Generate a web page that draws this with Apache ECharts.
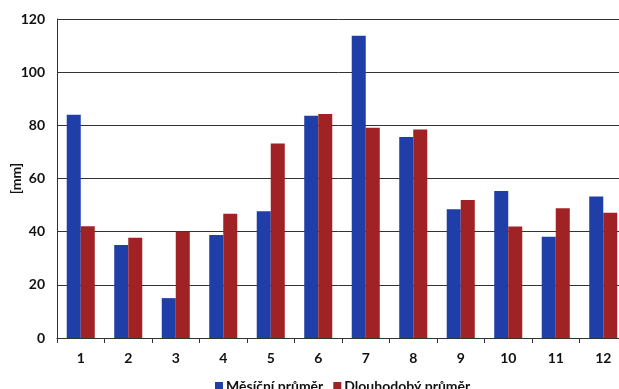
<!DOCTYPE html>
<html>
<head>
<meta charset="utf-8">
<script src="https://cdn.jsdelivr.net/npm/echarts@6/dist/echarts.min.js"></script>
<style>html,body{margin:0;padding:0;background:#fff}#c{width:619px;height:389px}</style>
</head>
<body>
<div id="c"></div>
<script>
const categories = ['1','2','3','4','5','6','7','8','9','10','11','12'];
const monthly = [84, 35, 15, 38.7, 47.7, 83.6, 113.7, 75.6, 48.4, 55.3, 38.1, 53.2];
const longTerm = [42, 37.7, 40, 46.7, 73.2, 84.3, 79.1, 78.4, 51.9, 41.9, 48.8, 47.1];
const seriesNames = ['Měsíční průměr', 'Dlouhodobý průměr'];
const yTicks = {min: 0, max: 120, interval: 20};

const chart = echarts.init(document.getElementById('c'), null, {renderer: 'canvas'});
const font = 'Lato, "Open Sans", "DejaVu Sans", sans-serif';
chart.setOption({
  animation: false,
  backgroundColor: '#fff',
  grid: {left: 57, top: 19, bottom: 51, right: -8, containLabel: false, outerBoundsMode: 'none'},
  legend: {
    left: 210, top: 374, itemWidth: 8, itemHeight: 8, itemGap: 10,
    icon: 'rect',
    textStyle: {fontFamily: font, fontWeight: 'bold', fontSize: 14, color: '#111', padding: [0,0,0,-2]},
    data: seriesNames
  },
  xAxis: {
    type: 'category', data: categories,
    axisLine: {lineStyle: {color: '#333', width: 1}},
    axisTick: {show: true, length: 5, lineStyle: {color: '#333'}},
    axisLabel: {margin: 13, fontFamily: font, fontWeight: 'bold', fontSize: 14, color: '#111'}
  },
  yAxis: {
    type: 'value', min: yTicks.min, max: yTicks.max, interval: yTicks.interval,
    name: '[mm]', nameLocation: 'middle', nameRotate: 90, nameGap: 34, nameMoveOverlap: false,
    nameTextStyle: {fontFamily: font, fontWeight: 'bold', fontSize: 14, color: '#111'},
    axisLine: {show: true, lineStyle: {color: '#333'}},
    axisTick: {show: false},
    splitLine: {lineStyle: {color: '#333', width: 1}},
    axisLabel: {margin: 12, fontFamily: font, fontWeight: 'bold', fontSize: 14, color: '#111'}
  },
  series: [
    {name: seriesNames[0], type: 'bar', data: monthly, itemStyle: {color: '#1f3ea8'}, barGap: '0%', barCategoryGap: '41%'},
    {name: seriesNames[1], type: 'bar', data: longTerm, itemStyle: {color: '#a12224'}, barGap: '0%', barCategoryGap: '41%'}
  ]
});
</script>
</body>
</html>
